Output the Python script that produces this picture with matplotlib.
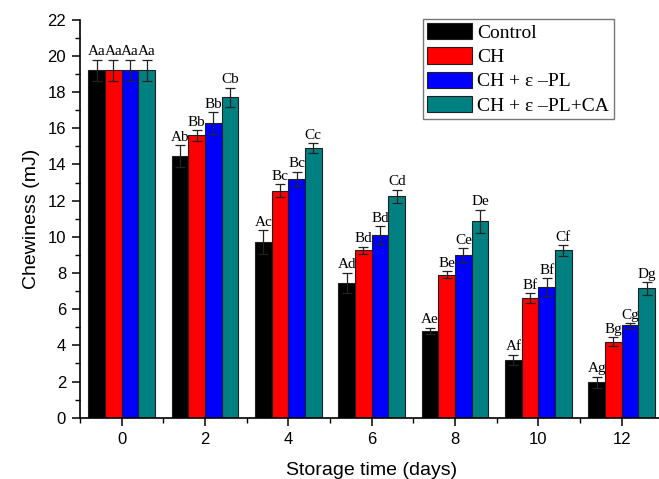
import numpy as np
import matplotlib
matplotlib.use("Agg")
import matplotlib.pyplot as plt
from matplotlib.ticker import MultipleLocator

# Data
days = [0, 2, 4, 6, 8, 10, 12]
series = ["Control", "CH", "CH + \u03b5 \u2013PL", "CH + \u03b5 \u2013PL+CA"]
colors = ["#000000", "#ff0000", "#0000ff", "#008080"]

control = [19.2, 14.45, 9.7, 7.45, 4.8, 3.2, 1.95]
ch = [19.2, 15.6, 12.55, 9.25, 7.9, 6.6, 4.2]
ch_pl = [19.2, 16.3, 13.2, 10.1, 9.0, 7.2, 5.1]
ch_pl_ca = [19.2, 17.7, 14.9, 12.25, 10.85, 9.25, 7.15]

control_err = [0.6, 0.6, 0.65, 0.57, 0.17, 0.28, 0.32]
ch_err = [0.6, 0.28, 0.37, 0.2, 0.2, 0.27, 0.26]
ch_pl_err = [0.6, 0.6, 0.4, 0.5, 0.37, 0.5, 0.13]
ch_pl_ca_err = [0.6, 0.55, 0.28, 0.36, 0.65, 0.3, 0.35]

control_lbl = ["Aa", "Ab", "Ac", "Ad", "Ae", "Af", "Ag"]
ch_lbl = ["Aa", "Bb", "Bc", "Bd", "Be", "Bf", "Bg"]
ch_pl_lbl = ["Aa", "Bb", "Bc", "Bd", "Ce", "Bf", "Cg"]
ch_pl_ca_lbl = ["Aa", "Cb", "Cc", "Cd", "De", "Cf", "Dg"]


def main():
    values = [control, ch, ch_pl, ch_pl_ca]
    errors = [control_err, ch_err, ch_pl_err, ch_pl_ca_err]
    labels = [control_lbl, ch_lbl, ch_pl_lbl, ch_pl_ca_lbl]

    fig = plt.figure(figsize=(6.59, 4.79), dpi=100)
    # axes extends past the right edge, like the cropped original
    ax = fig.add_axes([80 / 659, 61.3 / 479, 583.4 / 659, 398 / 479])

    width = 0.4
    x = np.array(days, dtype=float)
    for i in range(4):
        pos = x + (i - 1.5) * width
        ax.bar(pos, values[i], width, color=colors[i], edgecolor="#202020",
               linewidth=0.8, label=series[i], zorder=2)
        ax.errorbar(pos, values[i], yerr=errors[i], fmt="none", ecolor="#222222",
                    elinewidth=0.9, capsize=3.5, capthick=0.9, zorder=3)
        for p, v, e, t in zip(pos, values[i], errors[i], labels[i]):
            ax.annotate(t, (p, v + e), xytext=(0, 1), textcoords="offset points",
                        ha="center", va="bottom", fontsize=11,
                        family="Liberation Serif", zorder=4)

    ax.set_xlim(-1, 13)
    ax.set_ylim(0, 22)
    ax.set_xticks(days)
    ax.xaxis.set_minor_locator(MultipleLocator(1))
    ax.yaxis.set_major_locator(MultipleLocator(2))
    ax.yaxis.set_minor_locator(MultipleLocator(1))
    ax.spines["top"].set_visible(False)
    ax.spines["right"].set_visible(False)
    ax.spines["left"].set_linewidth(1.2)
    ax.spines["bottom"].set_linewidth(1.2)
    ax.tick_params(which="major", direction="out", length=6, width=1.1,
                   labelsize=12, pad=4)
    ax.tick_params(which="minor", direction="out", length=3.5, width=1.0)
    for lab in ax.get_xticklabels() + ax.get_yticklabels():
        lab.set_family("Liberation Sans")

    ax.set_xlabel("Storage time (days)", fontsize=14, family="Liberation Sans",
                  labelpad=11)
    ax.set_ylabel("Chewiness (mJ)", fontsize=14, family="Liberation Sans",
                  labelpad=5)

    leg = ax.legend(loc="upper left", bbox_to_anchor=(423 / 659, 1 - 19 / 479),
                    bbox_transform=fig.transFigure, fancybox=False,
                    prop={"family": "Liberation Serif", "size": 14},
                    handlelength=2.3, handleheight=0.9, labelspacing=0.28,
                    handletextpad=0.28, borderpad=0.22, borderaxespad=0,
                    frameon=True, framealpha=1)
    leg.get_frame().set_edgecolor("#777777")
    leg.get_frame().set_linewidth(1.0)

    fig.savefig("out.png", dpi=100)
    return 0


if __name__ == "__main__":
    main()
